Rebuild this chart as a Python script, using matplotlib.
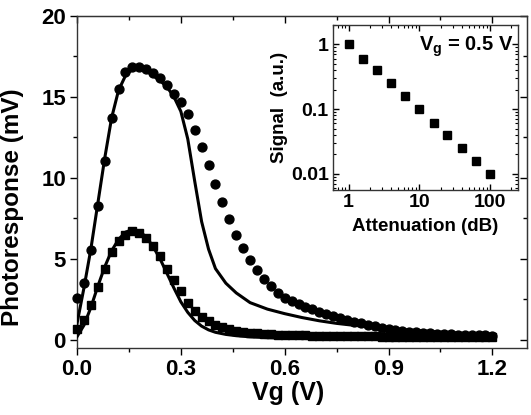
import matplotlib
matplotlib.use("Agg")
import matplotlib.pyplot as plt
from matplotlib.ticker import MultipleLocator, LogLocator, NullFormatter

plt.rcParams['font.family'] = ['Liberation Sans', 'DejaVu Sans']
plt.rcParams['font.weight'] = 'bold'
plt.rcParams['mathtext.fontset'] = 'custom'
plt.rcParams['mathtext.rm'] = 'Liberation Sans:bold'
plt.rcParams['mathtext.it'] = 'Liberation Sans:bold'
plt.rcParams['mathtext.bf'] = 'Liberation Sans:bold'

# ---- data: circles (higher response) ----
vg_circ = [0.00, 0.02, 0.04, 0.06, 0.08, 0.10, 0.12, 0.14, 0.16, 0.18, 0.20,
           0.22, 0.24, 0.26, 0.28, 0.30, 0.32, 0.34, 0.36, 0.38, 0.40,
           0.42, 0.44, 0.46, 0.48, 0.50, 0.52, 0.54, 0.56, 0.58, 0.60,
           0.62, 0.64, 0.66, 0.68, 0.70, 0.72, 0.74, 0.76, 0.78, 0.80,
           0.82, 0.84, 0.86, 0.88, 0.90, 0.92, 0.94, 0.96, 0.98, 1.00,
           1.02, 1.04, 1.06, 1.08, 1.10, 1.12, 1.14, 1.16, 1.18, 1.20]
pr_circ = [2.6, 3.5, 5.55, 8.27, 11.05, 13.7, 15.5, 16.5, 16.85, 16.85, 16.7,
           16.45, 16.15, 15.75, 15.2, 14.7, 13.95, 12.95, 11.9, 10.8, 9.6,
           8.5, 7.45, 6.5, 5.65, 4.95, 4.3, 3.75, 3.3, 2.92, 2.6,
           2.4, 2.2, 2.05, 1.9, 1.75, 1.6, 1.47, 1.35, 1.23, 1.12,
           1.02, 0.93, 0.84, 0.76, 0.69, 0.62, 0.56, 0.51, 0.47, 0.43,
           0.40, 0.38, 0.36, 0.34, 0.32, 0.31, 0.30, 0.29, 0.28, 0.27]

# ---- data: squares (lower response) ----
vg_sq = vg_circ
pr_sq = [0.7, 1.25, 2.15, 3.25, 4.4, 5.4, 6.1, 6.5, 6.7, 6.6, 6.3,
         5.8, 5.15, 4.35, 3.7, 3.0, 2.3, 1.8, 1.4, 1.15, 0.95,
         0.8, 0.68, 0.58, 0.5, 0.44, 0.40, 0.37, 0.35, 0.33, 0.31,
         0.30, 0.29, 0.28, 0.27, 0.26, 0.25, 0.25, 0.24, 0.24, 0.23,
         0.23, 0.22, 0.22, 0.21, 0.21, 0.20, 0.20, 0.19, 0.19, 0.18,
         0.18, 0.17, 0.17, 0.17, 0.16, 0.16, 0.16, 0.15, 0.15, 0.15]

# ---- fit curves ----
vg_fit1 = [0.00, 0.02, 0.04, 0.06, 0.08, 0.10, 0.12, 0.14, 0.16, 0.18, 0.20,
           0.22, 0.24, 0.26, 0.28, 0.30, 0.32, 0.34, 0.36, 0.38, 0.40,
           0.43, 0.46, 0.50, 0.55, 0.60, 0.65, 0.70, 0.75, 0.80, 0.85,
           0.90, 0.95, 1.00, 1.05, 1.10, 1.15, 1.20]
pr_fit1 = [1.0, 3.2, 5.6, 8.4, 11.2, 13.7, 15.4, 16.3, 16.7, 16.75, 16.6,
           16.3, 16.0, 15.6, 15.0, 14.1, 12.4, 9.8, 7.3, 5.6, 4.4,
           3.5, 2.9, 2.3, 1.9, 1.62, 1.38, 1.18, 1.02, 0.9, 0.8,
           0.7, 0.62, 0.55, 0.48, 0.42, 0.37, 0.33]
vg_fit2 = vg_fit1
pr_fit2 = [0.2, 0.9, 2.0, 3.3, 4.5, 5.5, 6.2, 6.65, 6.8, 6.7, 6.35,
           5.75, 5.0, 4.1, 3.2, 2.35, 1.7, 1.2, 0.85, 0.62, 0.47,
           0.34, 0.26, 0.19, 0.14, 0.11, 0.09, 0.07, 0.06, 0.05, 0.045,
           0.04, 0.035, 0.03, 0.03, 0.025, 0.025, 0.02]

# ---- inset data ----
atten = [1, 1.6, 2.5, 4, 6.3, 10, 16, 25, 40, 63, 100]
signal = [1.0, 0.6, 0.4, 0.25, 0.16, 0.1, 0.06, 0.04, 0.025, 0.016, 0.01]

fig = plt.figure(figsize=(5.31, 4.15), dpi=100)
ax = fig.add_axes([0.145, 0.1614, 0.8475, 0.8006])

ax.plot(vg_circ, pr_circ, 'o', color='black', markersize=6.4, clip_on=False, zorder=3)
ax.plot(vg_sq, pr_sq, 's', color='black', markersize=5.6, clip_on=False, zorder=3)
ax.plot(vg_fit1, pr_fit1, '-', color='black', linewidth=2.2, zorder=4)
ax.plot(vg_fit2, pr_fit2, '-', color='black', linewidth=2.2, zorder=4)

ax.set_xlim(0, 1.3)
ax.set_ylim(-0.5, 20)
ax.set_xticks([0.0, 0.3, 0.6, 0.9, 1.2])
ax.set_xticklabels(['0.0', '0.3', '0.6', '0.9', '1.2'])
ax.set_yticks([0, 5, 10, 15, 20])
ax.xaxis.set_minor_locator(MultipleLocator(0.15))
ax.yaxis.set_minor_locator(MultipleLocator(2.5))
ax.tick_params(which='major', direction='out', length=5, width=1, labelsize=16, pad=3)
ax.tick_params(which='minor', direction='out', length=3, width=1)
ax.tick_params(top=False, right=False)

secx = ax.secondary_xaxis('top')
secx.set_xticks([0.0, 0.3, 0.6, 0.9, 1.2])
secx.xaxis.set_minor_locator(MultipleLocator(0.15))
secx.tick_params(which='major', direction='in', length=5, width=1, labeltop=False)
secx.tick_params(which='minor', direction='in', length=3, width=1)
secy = ax.secondary_yaxis('right')
secy.set_yticks([0, 5, 10, 15, 20])
secy.yaxis.set_minor_locator(MultipleLocator(2.5))
secy.tick_params(which='major', direction='in', length=5, width=1, labelright=False)
secy.tick_params(which='minor', direction='in', length=3, width=1)
for a in [secx, secy]:
    for s in a.spines.values():
        s.set_color('#333333')
for s in ax.spines.values():
    s.set_color('#333333')
    s.set_linewidth(1)

ax.set_xlabel('Vg (V)', fontsize=18, fontweight='bold')
ax.set_ylabel('Photoresponse (mV)', fontsize=17.5, fontweight='bold')
ax.xaxis.set_label_coords(0.469, -0.10)
ax.yaxis.set_label_coords(-0.118, 0.425)

# ---- inset ----
ins = fig.add_axes([0.627, 0.542, 0.3485, 0.398])
ins.plot(atten, signal, 's', color='black', markersize=5.2)
ins.set_xscale('log')
ins.set_yscale('log')
ins.set_xlim(0.6, 250)
ins.set_ylim(0.0056, 2.0)
ins.set_xticks([1, 10, 100])
ins.set_xticklabels(['1', '10', '100'])
ins.set_yticks([0.01, 0.1, 1])
ins.set_yticklabels(['0.01', '0.1', '1'])
ins.xaxis.set_minor_locator(LogLocator(base=10, subs=range(2, 10)))
ins.yaxis.set_minor_locator(LogLocator(base=10, subs=range(2, 10)))
ins.xaxis.set_minor_formatter(NullFormatter())
ins.yaxis.set_minor_formatter(NullFormatter())
ins.tick_params(which='both', direction='in', top=True, right=True, labelsize=14, pad=3)
ins.tick_params(which='major', length=4, width=1)
ins.tick_params(which='minor', length=2, width=0.8)
for s in ins.spines.values():
    s.set_color('#333333')
    s.set_linewidth(1)
ins.set_xlabel('Attenuation (dB)', fontsize=13.5, fontweight='bold', labelpad=5)
ins.set_ylabel('Signal  (a.u.)', fontsize=13.5, fontweight='bold', labelpad=2)
ins.text(0.975, 0.94, r'$V_g$ = 0.5 V', transform=ins.transAxes, ha='right', va='top',
         fontsize=14.5, fontweight='bold')

fig.savefig('out.png', dpi=100)
